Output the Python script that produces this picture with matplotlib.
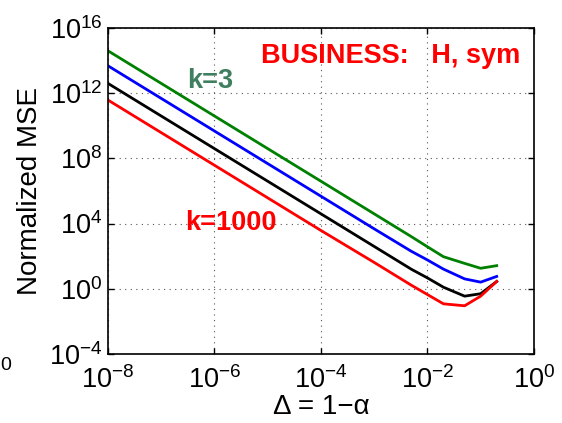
import numpy as np
import matplotlib
matplotlib.use('Agg')
import matplotlib.pyplot as plt

plt.rcParams['font.family'] = ['Liberation Sans', 'DejaVu Sans']
plt.rcParams['mathtext.fontset'] = 'custom'
plt.rcParams['mathtext.rm'] = 'Liberation Sans'
plt.rcParams['mathtext.it'] = 'Liberation Sans:italic'

# Delta = 1 - alpha
delta = [1e-8, 1e-7, 1e-6, 1e-5, 1e-4, 1e-3, 5e-3, 1e-2, 2e-2, 5e-2, 1e-1, 2e-1]

# log10 of normalized MSE
mse_k3 = [14.6, 12.6, 10.6, 8.6, 6.6, 4.6, 3.2, 2.58, 1.97, 1.56, 1.26, 1.42]
mse_blue = [13.68, 11.68, 9.68, 7.68, 5.68, 3.68, 2.3, 1.77, 1.21, 0.61, 0.41, 0.76]
mse_black = [12.6, 10.6, 8.6, 6.6, 4.6, 2.6, 1.2, 0.67, 0.10, -0.45, -0.30, 0.45]
mse_k1000 = [11.58, 9.58, 7.58, 5.58, 3.58, 1.62, 0.22, -0.35, -0.92, -1.04, -0.45, 0.45]

x_ticks = [1e-8, 1e-6, 1e-4, 1e-2, 1e0]
y_ticks = [1e-4, 1e0, 1e4, 1e8, 1e12, 1e16]

fig = plt.figure(figsize=(5.62, 4.23), dpi=100)
ax = fig.add_axes([0.192, 0.163, 0.758, 0.771])

ax.plot(delta, 10.0 ** np.array(mse_k3), color='#008000', lw=2)
ax.plot(delta, 10.0 ** np.array(mse_blue), color='#0000ff', lw=2)
ax.plot(delta, 10.0 ** np.array(mse_black), color='black', lw=2)
ax.plot(delta, 10.0 ** np.array(mse_k1000), color='#ff0000', lw=2)

ax.set_xscale('log')
ax.set_yscale('log')
ax.set_xlim(1e-8, 1)
ax.set_ylim(1e-4, 1e16)
ax.set_xticks(x_ticks)
ax.set_yticks(y_ticks)
ax.set_xticklabels([r'$10^{%d}$' % int(np.log10(v)) for v in x_ticks])
ax.set_yticklabels([r'$10^{%d}$' % int(np.log10(v)) for v in y_ticks])
ax.minorticks_off()
ax.tick_params(direction='in', top=True, right=True, labelsize=19.5, length=4, width=1)
ax.tick_params(axis='y', pad=4)
ax.tick_params(axis='x', pad=9)
for s in ax.spines.values():
    s.set_linewidth(1.2)
ax.grid(True, linestyle=(0, (1, 4)), color='#555555', linewidth=0.8)

ax.set_xlabel('Δ = 1−α', fontsize=20, labelpad=0)
ax.set_ylabel('Normalized MSE', fontsize=20, labelpad=4)

ax.text(10 ** -6.07, 10 ** 12.75, 'k=3', color='#3f7f5f', fontsize=19.5,
        fontweight='bold', ha='center', va='center')
ax.text(10 ** -5.69, 10 ** 4.05, 'k=1000', color='#ff0000', fontsize=19.5,
        fontweight='bold', ha='center', va='center')
ax.text(10 ** -2.69, 10 ** 14.25, 'BUSINESS:   H, sym', color='#ff0000', fontsize=19.5,
        fontweight='bold', ha='center', va='center')

# label left over from a neighbouring panel
fig.text(0.0, 0.137, '0', fontsize=14, ha='left', va='center')

fig.savefig('out.png', dpi=100)
